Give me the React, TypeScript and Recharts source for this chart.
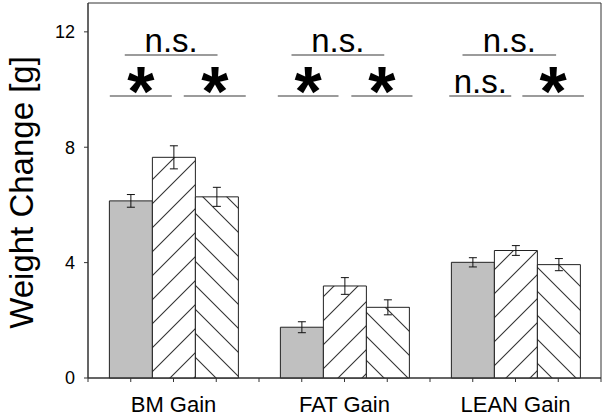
import React from 'react';
import { ComposedChart, Bar, Line, XAxis, YAxis, ErrorBar, ReferenceLine, ReferenceArea } from 'recharts';

const categories = ['BM Gain', 'FAT Gain', 'LEAN Gain'];
const categoryPos = [2, 6, 10];
const controlMean = [6.14, 1.76, 4.01];
const controlErr = [0.22, 0.19, 0.16];
const groupBMean = [7.65, 3.19, 4.42];
const groupBErr = [0.4, 0.29, 0.17];
const groupCMean = [6.28, 2.45, 3.93];
const groupCErr = [0.33, 0.26, 0.21];
const yTicks = [0, 4, 8, 12];
const xMinorTicks = [0, 1, 2, 3, 4, 5, 6, 7, 8, 9, 10, 11, 12];

// significance brackets, expressed on the minor-tick axis (0..12) and value axis
const bracketX1 = [0.86, 0.51, 2.24, 4.76, 4.44, 6.16, 8.76, 8.45, 10.16];
const bracketX2 = [3.03, 1.96, 3.69, 6.93, 5.86, 7.59, 10.95, 9.9, 11.6];
const bracketY = [11.2, 9.78, 9.78, 11.2, 9.78, 9.78, 11.2, 9.78, 9.78];
const bracketLabel = ['n.s.', '*', '*', 'n.s.', '*', '*', 'n.s.', 'n.s.', '*'];

const data = categories.map((name, i) => ({
  name,
  pos: categoryPos[i],
  ctrl: controlMean[i],
  ctrlErr: controlErr[i],
  b: groupBMean[i],
  bErr: groupBErr[i],
  c: groupCMean[i],
  cErr: groupCErr[i],
}));

const FONT = "'Liberation Sans', Arial, Helvetica, sans-serif";
const AXIS = '#333';

const categoryAt = (v: number) => {
  const idx = categoryPos.indexOf(v);
  return idx >= 0 ? categories[idx] : '';
};

const YLabel = (props: any) => {
  const vb = props.viewBox || { x: 0, y: 0, width: 88, height: 375 };
  const cx = vb.x + 33;
  const cy = vb.y + vb.height / 2 + 2;
  return (
    <text x={cx} y={cy} transform={`rotate(-90 ${cx} ${cy})`} textAnchor="middle" fontSize={33} fill="#000" fontFamily={FONT}>
      Weight Change [g]
    </text>
  );
};

export default function App() {
  return (
    <div style={{ position: 'absolute', left: 0, top: 0, fontFamily: FONT, background: '#fff' }}>
      <ComposedChart
        width={604}
        height={415}
        data={data}
        margin={{ top: 3, right: 3, bottom: 0, left: 0 }}
        barCategoryGap="12.5%"
        barGap={0}
      >
        <defs>
          <pattern id="hatchFwd" patternUnits="userSpaceOnUse" width={24} height={24} x={20}>
            <rect width={24} height={24} fill="#fff" />
            <path d="M0,24 L24,0 M-6,6 L6,-6 M18,30 L30,18" stroke="#333" strokeWidth={1.1} />
          </pattern>
          <pattern id="hatchBack" patternUnits="userSpaceOnUse" width={24} height={24} x={6}>
            <rect width={24} height={24} fill="#fff" />
            <path d="M0,0 L24,24 M-6,18 L6,30 M18,-6 L30,6" stroke="#333" strokeWidth={1.1} />
          </pattern>
        </defs>
        <XAxis
          xAxisId="num"
          dataKey="pos"
          type="number"
          domain={[0, 12]}
          ticks={xMinorTicks}
          interval={0}
          tickFormatter={categoryAt}
          tickSize={4}
          tickMargin={14}
          height={37}
          stroke={AXIS}
          tick={{ fontSize: 22, fill: '#000', fontFamily: FONT }}
          allowDataOverflow
        />
        <XAxis xAxisId="cat" dataKey="name" hide orientation="top" height={0} />
        <YAxis
          domain={[0, 13]}
          ticks={yTicks}
          tickSize={4}
          tickMargin={9}
          width={88}
          stroke={AXIS}
          tick={{ fontSize: 18, fill: '#000', fontFamily: FONT }}
          label={{ content: YLabel }}
        />
        <ReferenceArea
          xAxisId="num"
          x1={0}
          x2={12}
          y1={0}
          y2={13}
          fill="none"
          fillOpacity={0}
          stroke={AXIS}
          strokeWidth={1}
          ifOverflow="visible"
        />
        <Line
          xAxisId="num"
          dataKey="ctrl"
          stroke="none"
          dot={false}
          activeDot={false}
          legendType="none"
          isAnimationActive={false}
        />
        <Bar xAxisId="cat" dataKey="ctrl" fill="#c0c0c0" stroke="#222" strokeWidth={1} isAnimationActive={false}>
          <ErrorBar dataKey="ctrlErr" width={4} stroke="#111" strokeWidth={1} />
        </Bar>
        <Bar xAxisId="cat" dataKey="b" fill="url(#hatchFwd)" stroke="#222" strokeWidth={1} isAnimationActive={false}>
          <ErrorBar dataKey="bErr" width={4} stroke="#111" strokeWidth={1} />
        </Bar>
        <Bar xAxisId="cat" dataKey="c" fill="url(#hatchBack)" stroke="#222" strokeWidth={1} isAnimationActive={false}>
          <ErrorBar dataKey="cErr" width={4} stroke="#111" strokeWidth={1} />
        </Bar>
        {bracketLabel.map((lab, i) => {
          const star = lab === '*';
          return (
            <ReferenceLine
              key={i}
              xAxisId="num"
              segment={[
                { x: bracketX1[i], y: bracketY[i] },
                { x: bracketX2[i], y: bracketY[i] },
              ]}
              stroke="#7a7a7a"
              strokeWidth={1.5}
              label={{
                value: lab,
                position: 'top',
                offset: star ? -20 : 3,
                fontSize: star ? 70 : 33,
                fontWeight: star ? 'bold' : 'normal',
                fill: '#000',
                fontFamily: FONT,
              }}
            />
          );
        })}
      </ComposedChart>
    </div>
  );
}
